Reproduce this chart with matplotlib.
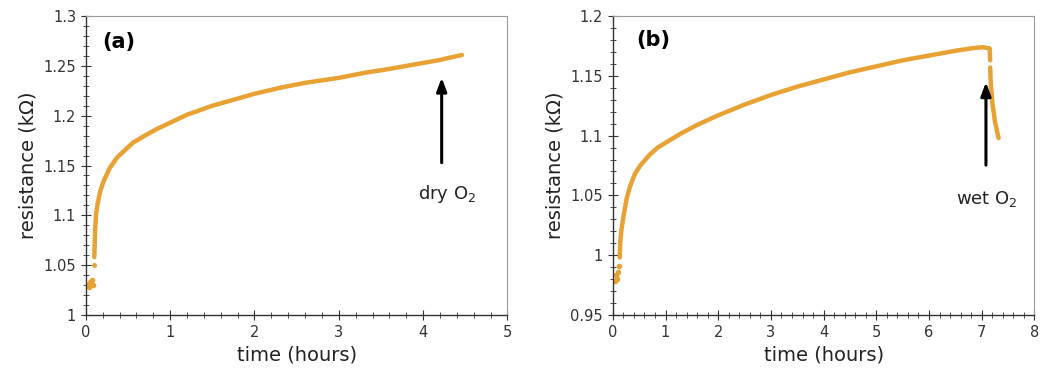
import numpy as np
import matplotlib.pyplot as plt
from matplotlib.ticker import MultipleLocator, FuncFormatter

# panel (a): dry O2
t_a_start = [0.02, 0.04, 0.05, 0.06, 0.07, 0.08]
r_a_start = [1.030, 1.028, 1.033, 1.031, 1.035, 1.030]
t_a_gap = [0.095]
r_a_gap = [1.050]
t_a = [0.10, 0.105, 0.11, 0.12, 0.14, 0.17, 0.21, 0.28, 0.37, 0.47, 0.56, 0.70, 0.85,
       1.0, 1.2, 1.5, 1.75, 2.0, 2.3, 2.6, 3.0, 3.3, 3.6, 4.0, 4.2, 4.3, 4.46]
r_a = [1.058, 1.070, 1.085, 1.100, 1.112, 1.124, 1.134, 1.147, 1.158, 1.166, 1.173, 1.180, 1.187,
       1.193, 1.201, 1.210, 1.216, 1.222, 1.228, 1.233, 1.238, 1.243, 1.247, 1.253, 1.256, 1.258, 1.261]

# panel (b): wet O2
t_b_start = [0.04, 0.06, 0.08, 0.10, 0.12]
r_b_start = [0.978, 0.983, 0.980, 0.986, 0.991]
t_b = [0.13, 0.14, 0.16, 0.2, 0.26, 0.33, 0.42, 0.52, 0.7, 0.85, 1.0, 1.3, 1.6, 2.0, 2.5,
       3.0, 3.5, 4.0, 4.5, 5.0, 5.5, 6.0, 6.5, 6.8, 7.02, 7.15, 7.16]
r_b = [0.998, 1.010, 1.020, 1.032, 1.047, 1.058, 1.068, 1.075, 1.084, 1.090, 1.094, 1.102, 1.109,
       1.117, 1.126, 1.134, 1.141, 1.147, 1.153, 1.158, 1.163, 1.167, 1.171, 1.173, 1.174, 1.173, 1.163]
t_b_drop = [7.16, 7.17, 7.20, 7.25, 7.32]
r_b_drop = [1.157, 1.145, 1.128, 1.112, 1.098]

orange = '#e8a233'
fmt = FuncFormatter(lambda v, p: '%g' % round(v, 3))

fig, axes = plt.subplots(1, 2, figsize=(10.47, 3.84), dpi=100)
fig.subplots_adjust(left=0.082, right=0.988, top=0.958, bottom=0.18, wspace=0.25)
ax1, ax2 = axes


def style(ax):
    for s in ['top', 'right']:
        ax.spines[s].set_color('#9a9a9a')
        ax.spines[s].set_linewidth(0.8)
    for s in ['left', 'bottom']:
        ax.spines[s].set_color('#333333')
        ax.spines[s].set_linewidth(1.0)
    ax.xaxis.set_major_locator(MultipleLocator(1))
    ax.xaxis.set_minor_locator(MultipleLocator(0.2))
    ax.yaxis.set_major_locator(MultipleLocator(0.05))
    ax.yaxis.set_minor_locator(MultipleLocator(0.01))
    ax.xaxis.set_major_formatter(fmt)
    ax.yaxis.set_major_formatter(fmt)
    ax.tick_params(which='both', direction='inout', top=False, right=False,
                   colors='#333333', labelsize=10.5)
    ax.tick_params(which='major', length=7)
    ax.tick_params(which='minor', length=4)
    ax.set_xlabel('time (hours)', fontsize=14, color='#222222')
    ax.set_ylabel('resistance (k\u03a9)', fontsize=14, color='#222222')


# (a)
ax1.plot(t_a_start, r_a_start, 'o', color=orange, ms=3)
ax1.plot(t_a_gap, r_a_gap, 'o', color=orange, ms=2.5)
ax1.plot(t_a, r_a, '-', color=orange, lw=3.2, solid_capstyle='round')
ax1.set_xlim(0, 5)
ax1.set_ylim(1.0, 1.3)
style(ax1)
ax1.text(0.2, 1.274, '(a)', fontsize=15, fontweight='bold', va='center')
ax1.annotate('', xy=(4.22, 1.241), xytext=(4.22, 1.15),
             arrowprops=dict(arrowstyle='-|>,head_length=0.8,head_width=0.3', color='black', lw=2.2))
ax1.text(4.28, 1.121, 'dry O$_2$', fontsize=13, ha='center', va='center', color='#222222')

# (b)
ax2.plot(t_b_start, r_b_start, 'o', color=orange, ms=3)
ax2.plot(t_b, r_b, '-', color=orange, lw=3.2, solid_capstyle='round')
ax2.plot(t_b_drop, r_b_drop, '-', color=orange, lw=3.2, solid_capstyle='round')
ax2.set_xlim(0, 8)
ax2.set_ylim(0.95, 1.2)
style(ax2)
ax2.text(0.45, 1.18, '(b)', fontsize=15, fontweight='bold', va='center')
ax2.annotate('', xy=(7.08, 1.147), xytext=(7.08, 1.073),
             arrowprops=dict(arrowstyle='-|>,head_length=0.8,head_width=0.3', color='black', lw=2.2))
ax2.text(7.1, 1.047, 'wet O$_2$', fontsize=13, ha='center', va='center', color='#222222')

fig.savefig('out.png', dpi=100)
